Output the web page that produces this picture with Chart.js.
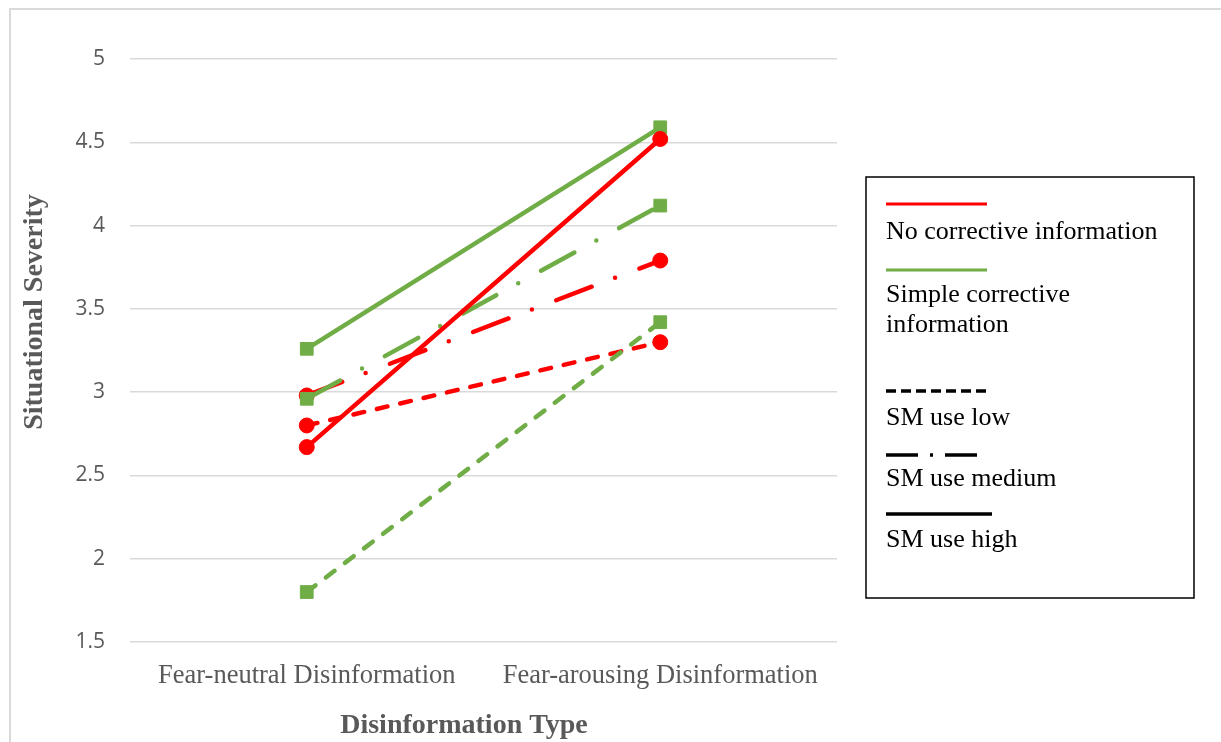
<!DOCTYPE html>
<html>
<head>
<meta charset="utf-8">
<script src="https://cdn.jsdelivr.net/npm/chart.js@4"></script>
<style>
  html, body { margin: 0; padding: 0; background: #ffffff; }
  #wrap { position: relative; width: 1221px; height: 742px; }
</style>
</head>
<body>
<div id="wrap"><canvas id="chart"></canvas></div>
<script>
// Categories and values
const categories = ['Fear-neutral Disinformation', 'Fear-arousing Disinformation'];
const noCorrectiveHigh   = [2.67, 4.52];
const noCorrectiveMedium = [2.98, 3.79];
const noCorrectiveLow    = [2.80, 3.30];
const simpleHigh   = [3.26, 4.59];
const simpleMedium = [2.96, 4.12];
const simpleLow    = [1.80, 3.42];
const yTicks = [1.5, 2, 2.5, 3, 3.5, 4, 4.5, 5];
const yTitle = 'Situational Severity';
const xTitle = 'Disinformation Type';

const RED = '#ff0000';
const GREEN = '#70ad47';
const GREY_TEXT = '#595959';
const GRID = '#d9d9d9';
const SERIF = '"Liberation Serif", "Times New Roman", serif';

const DASH_LOW = [11, 13];
const DASH_MED = [38, 25, 0, 26];

function redSeries(label, data, dash) {
  return {
    label, data,
    borderColor: RED, backgroundColor: RED,
    borderWidth: 4.5, borderDash: dash, borderCapStyle: 'round',
    pointStyle: 'circle', pointRadius: 7.5, pointBorderWidth: 1,
    pointBackgroundColor: RED, pointBorderColor: RED,
    tension: 0, fill: false
  };
}
function greenSeries(label, data, dash) {
  return {
    label, data,
    borderColor: GREEN, backgroundColor: GREEN,
    borderWidth: 4.5, borderDash: dash, borderCapStyle: 'round',
    pointStyle: 'rect', pointRadius: 9, pointBorderWidth: 1,
    pointBackgroundColor: GREEN, pointBorderColor: GREEN,
    tension: 0, fill: false
  };
}

// First dataset is painted last (on top)
const datasets = [
  redSeries('No corrective information, SM use high', noCorrectiveHigh, []),
  greenSeries('Simple corrective information, SM use high', simpleHigh, []),
  greenSeries('Simple corrective information, SM use medium', simpleMedium, DASH_MED),
  greenSeries('Simple corrective information, SM use low', simpleLow, DASH_LOW),
  redSeries('No corrective information, SM use medium', noCorrectiveMedium, DASH_MED),
  redSeries('No corrective information, SM use low', noCorrectiveLow, DASH_LOW)
];

// Legend entries: colour keys and line-style keys
const legendItems = [
  { lines: ['No corrective information'], color: RED, dash: [], width: 3, len: 101, lineY: 204, textY: [232] },
  { lines: ['Simple corrective', 'information'], color: GREEN, dash: [], width: 3, len: 101, lineY: 270, textY: [295, 325] },
  { lines: ['SM use low'], color: '#000000', dash: [10, 5], width: 3.5, len: 102, lineY: 391, textY: [418] },
  { lines: ['SM use medium'], color: '#000000', dash: [32, 12, 3, 12], width: 3.5, len: 93, lineY: 455, textY: [479] },
  { lines: ['SM use high'], color: '#000000', dash: [], width: 3.5, len: 106, lineY: 514, textY: [540] }
];

const frameAndLegend = {
  id: 'frameAndLegend',
  beforeDraw(chart) {
    const ctx = chart.ctx;
    ctx.save();
    ctx.strokeStyle = GRID;
    ctx.lineWidth = 2;
    ctx.strokeRect(10, 9, 1400, 900);
    ctx.restore();
  },
  afterDraw(chart) {
    const ctx = chart.ctx;
    // axis titles
    ctx.save();
    ctx.fillStyle = GREY_TEXT;
    ctx.font = 'bold 28px ' + SERIF;
    ctx.textAlign = 'center';
    ctx.textBaseline = 'middle';
    ctx.fillText(xTitle, 464, 726);
    ctx.translate(35, 312);
    ctx.rotate(-Math.PI / 2);
    ctx.fillText(yTitle, 0, 0);
    ctx.restore();

    // legend box
    ctx.save();
    ctx.strokeStyle = '#000000';
    ctx.lineWidth = 1.5;
    ctx.strokeRect(866, 177, 328, 421);
    const x0 = 886;
    legendItems.forEach(item => {
      ctx.beginPath();
      ctx.setLineDash(item.dash);
      ctx.strokeStyle = item.color;
      ctx.lineWidth = item.width;
      ctx.lineCap = 'butt';
      ctx.moveTo(x0, item.lineY);
      ctx.lineTo(x0 + item.len, item.lineY);
      ctx.stroke();
      ctx.setLineDash([]);
      ctx.fillStyle = '#000000';
      ctx.font = '26px ' + SERIF;
      ctx.textBaseline = 'middle';
      ctx.textAlign = 'left';
      item.lines.forEach((t, i) => ctx.fillText(t, x0, item.textY[i]));
    });
    ctx.restore();
  }
};

new Chart(document.getElementById('chart'), {
  type: 'line',
  data: { labels: categories, datasets },
  options: {
    responsive: true,
    maintainAspectRatio: false,
    animation: false,
    layout: { padding: { left: 12, top: 59, right: 384, bottom: 0 } },
    plugins: { legend: { display: false }, tooltip: { enabled: false } },
    scales: {
      x: {
        offset: true,
        grid: { display: false, drawTicks: false },
        border: { display: false },
        ticks: {
          color: GREY_TEXT, padding: 18,
          font: { family: SERIF, size: 26.5 }
        },
        afterFit(scale) { scale.height = 100; }
      },
      y: {
        min: 1.5, max: 5,
        afterBuildTicks(scale) { scale.ticks = yTicks.map(v => ({ value: v })); },
        grid: { color: GRID, lineWidth: 1.5, drawTicks: false },
        border: { display: false },
        ticks: {
          color: GREY_TEXT, padding: 25,
          font: { family: '"Open Sans", "Noto Sans", sans-serif', size: 21 },
          callback: v => String(v)
        },
        afterFit(scale) { scale.width = 118; }
      }
    }
  },
  plugins: [frameAndLegend]
});
</script>
</body>
</html>
